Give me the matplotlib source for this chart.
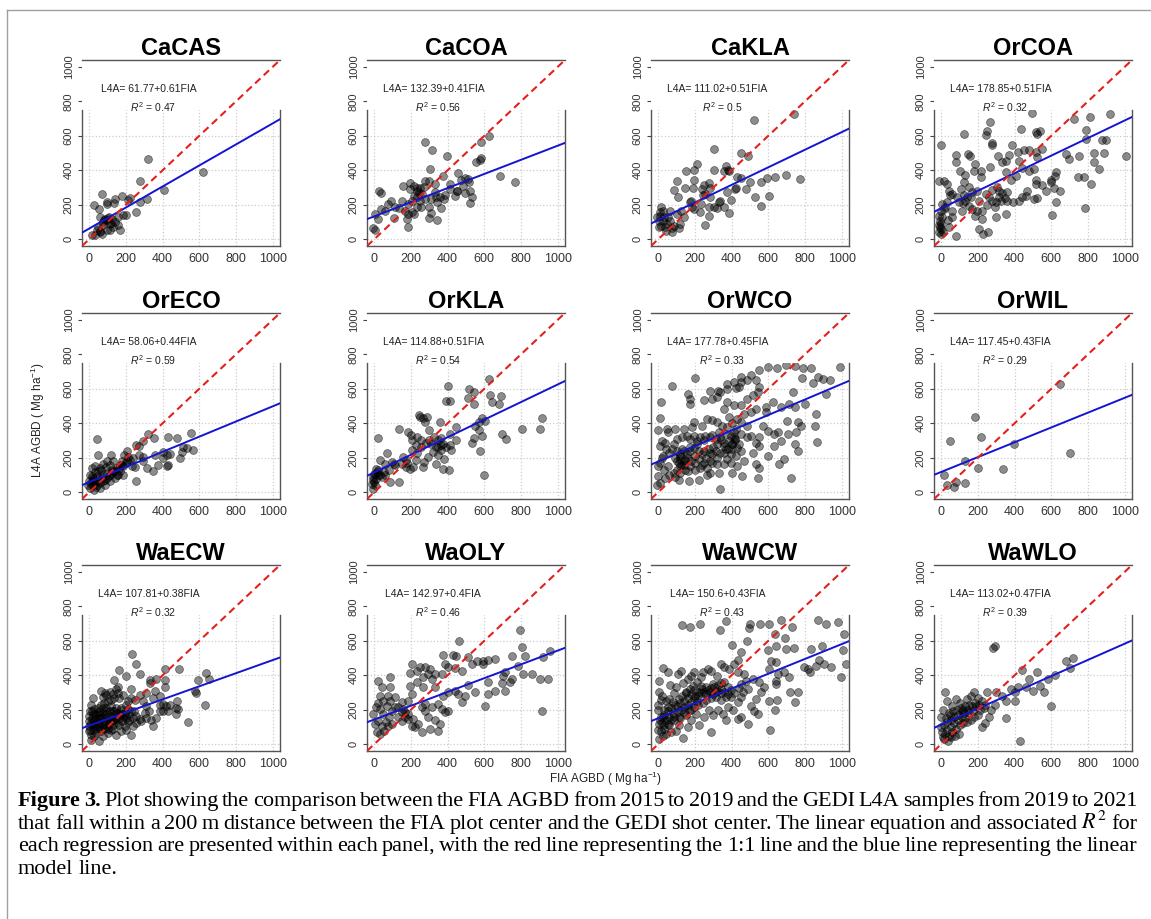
import matplotlib.pyplot as plt
from matplotlib.patches import Rectangle
from matplotlib.lines import Line2D
from matplotlib.transforms import IdentityTransform

W, H = 1151, 919

panels = ["CaCAS", "CaCOA", "CaKLA", "OrCOA",
          "OrECO", "OrKLA", "OrWCO", "OrWIL",
          "WaECW", "WaOLY", "WaWCW", "WaWLO"]
intercepts = [61.77, 132.39, 111.02, 178.85, 58.06, 114.88, 177.78, 117.45, 107.81, 142.97, 150.6, 113.02]
slopes = [0.61, 0.41, 0.51, 0.51, 0.44, 0.51, 0.45, 0.43, 0.38, 0.4, 0.43, 0.47]
r2 = [0.47, 0.56, 0.5, 0.32, 0.59, 0.54, 0.33, 0.29, 0.32, 0.46, 0.43, 0.39]
ticks = [0, 200, 400, 600, 800, 1000]

# (FIA, L4A) pairs
cacas_pts = [(322, 468), (622, 390), (276, 338), (407, 283), (313, 235), (67, 264), (98, 216), (25, 196),
             (55, 177), (176, 249), (140, 235), (95, 202), (135, 210), (213, 225), (222, 241), (255, 157),
             (276, 216), (200, 138), (158, 128), (122, 118), (95, 109), (58, 128), (76, 99), (49, 70),
             (58, 47), (31, 21), (95, 50), (113, 85), (140, 99), (167, 50), (158, 80), (131, 70), (109, 128),
             (87, 117), (76, 80), (40, 50), (113, 50), (13, 21), (67, 31), (185, 140), (100, 120), (80, 110),
             (120, 95), (60, 40)]
cacoa_pts = [(278, 561), (314, 517), (397, 483), (625, 600), (583, 561), (583, 470), (574, 462), (556, 445),
             (305, 406), (373, 369), (457, 386), (683, 367), (766, 330), (512, 348), (296, 340), (333, 320),
             (413, 320), (411, 289), (451, 278), (482, 309), (515, 330), (497, 266), (524, 282), (534, 247),
             (524, 212), (155, 307), (196, 291), (219, 307), (232, 282), (250, 297), (269, 305), (260, 262),
             (278, 233), (256, 188), (232, 243), (205, 223), (186, 204), (168, 165), (186, 146), (205, 155),
             (177, 117), (183, 72), (214, 146), (232, 184), (150, 223), (132, 181), (113, 184), (91, 223),
             (77, 204), (58, 165), (106, 122), (35, 177), (4, 146), (18, 117), (-5, 64), (4, 52), (37, 270),
             (27, 280), (342, 214), (311, 231), (296, 188), (311, 150), (296, 122), (342, 109), (336, 243),
             (360, 243), (378, 231), (388, 258), (442, 252), (451, 282), (366, 181), (196, 326), (241, 268),
             (250, 223), (214, 250), (274, 340), (232, 297), (333, 272), (475, 344), (497, 355)]
cakla_pts = [(523, 693), (739, 728), (306, 522), (450, 501), (491, 485), (211, 437), (193, 404), (152, 394),
             (306, 404), (371, 427), (380, 404), (358, 394), (385, 398), (431, 359), (450, 355), (501, 332),
             (560, 332), (593, 355), (637, 359), (697, 371), (771, 350), (101, 336), (143, 297), (187, 297),
             (196, 344), (248, 317), (284, 297), (240, 291), (275, 328), (373, 276), (418, 289), (422, 297),
             (479, 293), (528, 243), (605, 252), (560, 194), (106, 247), (174, 216), (180, 220), (193, 175),
             (229, 157), (235, 204), (244, 258), (257, 262), (275, 184), (275, 136), (253, 82), (330, 214),
             (321, 181), (306, 184), (385, 151), (339, 220), (284, 243), (83, 285), (17, 188), (9, 157),
             (9, 134), (6, 72), (24, 107), (37, 68), (46, 87), (55, 130), (64, 107), (72, 64), (42, 45),
             (72, 39), (101, 146), (116, 87), (110, 64), (125, 165), (28, 165), (6, 103), (17, 78), (61, 161),
             (138, 126), (83, 78), (31, 126), (-6, 126), (183, 188), (358, 184), (394, 227)]
orcoa_pts = [(496, 732), (724, 699), (812, 709), (920, 728), (263, 680), (122, 612), (245, 602), (250, 625),
             (434, 641), (515, 621), (538, 625), (524, 612), (788, 631), (277, 544), (274, 557), (310, 485),
             (387, 548), (369, 489), (451, 515), (420, 505), (478, 515), (515, 505), (524, 476), (551, 524),
             (-4, 548), (146, 495), (159, 480), (82, 489), (82, 447), (186, 437), (100, 394), (177, 398),
             (217, 398), (217, 359), (350, 456), (268, 417), (332, 447), (354, 388), (423, 456), (442, 414),
             (478, 398), (504, 408), (679, 495), (697, 466), (752, 485), (830, 499), (834, 447), (861, 408),
             (887, 499), (896, 577), (874, 577), (791, 583), (624, 388), (620, 369), (597, 330), (597, 346),
             (615, 297), (646, 278), (624, 214), (606, 140), (515, 321), (524, 239), (506, 233), (515, 344),
             (551, 317), (573, 282), (405, 369), (378, 344), (360, 272), (332, 266), (314, 243), (296, 214),
             (274, 223), (250, 200), (292, 188), (323, 223), (347, 239), (360, 223), (391, 214), (423, 223),
             (442, 243), (460, 252), (469, 278), (296, 130), (350, 146), (223, 117), (204, 59), (254, 39),
             (226, 29), (223, 165), (186, 136), (195, 165), (204, 223), (195, 282), (164, 243), (168, 272),
             (141, 243), (131, 223), (119, 208), (95, 214), (86, 243), (122, 258), (150, 194), (168, 175),
             (113, 165), (58, 165), (49, 258), (31, 214), (22, 188), (13, 175), (58, 126), (36, 111),
             (40, 68), (80, 19), (4, 130), (0, 87), (-5, 68), (-11, 39), (7, 39), (0, 29), (-15, 340),
             (31, 321), (13, 336), (58, 262), (40, 282), (108, 291), (122, 330), (131, 375), (150, 301),
             (241, 262), (259, 243), (277, 285), (305, 301), (314, 282), (743, 359), (816, 321), (785, 181),
             (1007, 485), (779, 359), (-11, 136), (-9, 107), (-4, 58), (-15, 84), (0, 165), (4, 204)]
oreco_pts = [(322, 338), (431, 318), (553, 344), (476, 315), (351, 315), (291, 295), (255, 276), (273, 266),
             (40, 307), (49, 214), (118, 214), (207, 237), (189, 214), (213, 202), (269, 214), (295, 202),
             (358, 214), (404, 233), (422, 214), (440, 222), (504, 233), (531, 256), (567, 247), (513, 260),
             (495, 198), (400, 198), (376, 159), (422, 150), (431, 155), (349, 124), (295, 179), (249, 148),
             (313, 140), (255, 62), (231, 150), (176, 179), (185, 150), (158, 101), (182, 97), (131, 179),
             (113, 159), (95, 179), (76, 163), (58, 140), (31, 150), (13, 140), (4, 101), (13, 62), (22, 39),
             (4, 23), (40, 43), (58, 23), (76, 62), (95, 82), (113, 101), (131, 120), (149, 140), (167, 159),
             (204, 179), (222, 188), (240, 198), (140, 82), (113, 62), (85, 43), (67, 82), (44, 91), (22, 82),
             (31, 52), (49, 72), (76, 101), (95, 111), (122, 130), (149, 101), (167, 120), (49, 120), (25, 14),
             (-5, 39), (0, 62), (10, 45), (20, 70), (35, 30), (60, 55), (85, 70), (105, 95), (125, 110),
             (140, 125), (160, 140), (180, 160), (200, 170), (15, 95), (30, 115), (65, 130), (90, 145)]
orkla_pts = [(624, 654), (402, 615), (519, 601), (541, 580), (633, 566), (643, 521), (693, 558), (680, 513),
             (389, 531), (415, 531), (511, 546), (541, 511), (244, 449), (250, 439), (263, 429), (287, 439),
             (278, 410), (356, 410), (300, 361), (443, 377), (411, 338), (133, 365), (183, 351), (198, 332),
             (207, 302), (233, 322), (252, 302), (226, 273), (281, 283), (300, 302), (309, 279), (346, 302),
             (337, 263), (374, 279), (389, 263), (411, 273), (420, 244), (448, 302), (365, 244), (319, 234),
             (346, 215), (337, 166), (374, 137), (406, 127), (378, 195), (291, 205), (272, 176), (226, 185),
             (263, 146), (211, 146), (193, 137), (174, 146), (174, 185), (159, 205), (106, 166), (96, 176),
             (69, 225), (31, 185), (78, 127), (87, 59), (133, 59), (22, 316), (550, 386), (569, 405),
             (587, 429), (606, 415), (569, 361), (587, 327), (541, 316), (532, 283), (578, 238), (596, 98),
             (698, 338), (720, 307), (804, 365), (904, 365), (913, 429), (0, 107), (-6, 68), (4, 39), (-6, 20),
             (7, 137), (13, 117), (-6, 88), (0, 59), (-11, 49), (19, 98), (31, 98), (50, 117), (41, 88),
             (59, 98), (115, 156), (152, 162), (180, 170), (56, 166), (7, 78), (4, 103), (22, 127), (346, 263),
             (365, 273), (328, 318), (365, 312), (252, 263), (207, 244), (233, 225)]
orwco_pts = [(596, 729), (648, 720), (697, 739), (743, 733), (789, 720), (835, 720), (991, 724), (550, 710),
             (505, 680), (450, 671), (413, 641), (374, 625), (326, 588), (284, 586), (202, 665), (77, 616),
             (161, 567), (171, 543), (171, 514), (248, 537), (290, 543), (321, 553), (339, 582), (374, 598),
             (422, 602), (440, 612), (453, 641), (486, 651), (532, 651), (550, 612), (541, 582), (514, 563),
             (486, 543), (450, 504), (413, 508), (376, 524), (358, 484), (385, 435), (404, 402), (431, 425),
             (450, 406), (422, 367), (468, 455), (505, 465), (532, 484), (587, 494), (587, 465), (624, 524),
             (670, 494), (710, 514), (743, 494), (734, 582), (784, 665), (844, 633), (871, 671), (899, 657),
             (936, 651), (917, 567), (862, 455), (853, 386), (868, 292), (798, 514), (761, 406), (780, 386),
             (752, 347), (748, 278), (761, 239), (703, 414), (706, 339), (670, 298), (684, 190), (660, 161),
             (725, 82), (633, 269), (651, 347), (596, 357), (569, 386), (550, 318), (532, 288), (550, 269),
             (514, 229), (596, 210), (633, 337), (505, 327), (486, 318), (486, 386), (450, 337), (418, 308),
             (404, 278), (394, 327), (376, 376), (349, 386), (321, 406), (294, 416), (266, 425), (239, 386),
             (193, 406), (183, 376), (138, 367), (92, 367), (46, 367), (0, 363), (9, 429), (13, 524), (9, 269),
             (18, 298), (37, 288), (55, 347), (83, 278), (101, 308), (128, 318), (156, 327), (174, 308),
             (193, 327), (211, 298), (229, 318), (257, 327), (284, 318), (312, 308), (339, 318), (358, 288),
             (385, 298), (413, 318), (73, 249), (101, 239), (119, 220), (138, 239), (156, 220), (174, 239),
             (193, 259), (220, 239), (248, 239), (275, 249), (294, 220), (312, 239), (339, 229), (367, 249),
             (394, 220), (404, 249), (431, 259), (110, 170), (128, 160), (147, 185), (120, 190), (147, 131),
             (101, 131), (83, 112), (55, 151), (28, 210), (9, 171), (0, 151), (0, 92), (-9, 43), (9, 53),
             (37, 82), (110, 73), (165, 63), (220, 73), (266, 102), (284, 112), (330, 112), (404, 112),
             (339, 18), (459, 92), (358, 161), (376, 190), (248, 171), (202, 171), (174, 151), (138, 180),
             (119, 151), (229, 141), (266, 141), (294, 171), (321, 161), (431, 151), (394, 171), (468, 180),
             (422, 210), (450, 239), (541, 82), (550, 141), (532, 161),
             (100, 180), (120, 210), (140, 160), (160, 200), (180, 180), (200, 210), (220, 190), (240, 220),
             (260, 200), (280, 230), (300, 260), (320, 280), (340, 300), (360, 270), (380, 250), (400, 280),
             (420, 300), (440, 280), (130, 250), (170, 260), (210, 280), (250, 300), (290, 330), (330, 350),
             (370, 340), (410, 350), (360, 230), (320, 200), (280, 180), (240, 160), (200, 130), (160, 120),
             (120, 110), (90, 200), (60, 230), (40, 250), (20, 200), (30, 130), (60, 100), (90, 90)]
orwil_pts = [(645, 625), (183, 435), (49, 299), (219, 318), (397, 282), (128, 183), (201, 140), (338, 134),
             (700, 227), (15, 101), (82, 58), (33, 39), (68, 29), (130, 54)]
waecw_pts = [(234, 522), (252, 468), (164, 429), (199, 396), (274, 405), (332, 372), (361, 376), (411, 439),
             (489, 439), (635, 413), (653, 376), (593, 370), (575, 308), (580, 298), (633, 226), (478, 250),
             (484, 201), (471, 172), (429, 195), (401, 234), (383, 279), (411, 331), (411, 370), (347, 269),
             (356, 308), (332, 357), (310, 298), (292, 250), (274, 288), (250, 259), (228, 318), (228, 269),
             (210, 250), (183, 288), (146, 318), (155, 331), (128, 292), (110, 304), (91, 288), (73, 273),
             (18, 265), (9, 226), (15, 191), (27, 201), (46, 211), (64, 230), (82, 240), (100, 250), (119, 259),
             (137, 265), (164, 265), (173, 211), (155, 181), (137, 191), (110, 191), (91, 172), (73, 181),
             (55, 152), (36, 152), (18, 142), (0, 133), (-4, 103), (0, 74), (18, 84), (36, 94), (55, 103),
             (73, 113), (91, 123), (110, 133), (128, 142), (146, 152), (164, 148), (183, 156), (201, 152),
             (219, 142), (237, 152), (256, 162), (274, 148), (256, 123), (237, 103), (228, 55), (192, 103),
             (173, 74), (146, 55), (119, 84), (100, 64), (73, 45), (55, 16), (27, 45), (9, 55), (36, 64),
             (64, 74), (82, 94), (0, 162), (4, 191), (18, 172), (46, 181), (73, 211), (91, 211), (119, 220),
             (128, 191), (146, 211), (192, 181), (210, 201), (228, 191), (246, 191), (310, 220), (328, 191),
             (338, 142), (310, 152), (347, 103), (383, 191), (365, 152), (401, 191), (420, 220), (438, 230),
             (283, 133), (301, 181), (173, 172), (219, 172), (128, 113), (164, 113), (201, 84), (91, 94),
             (18, 113), (4, 84), (27, 123), (9, 25), (539, 127), (474, 211), (383, 230), (64, 308), (88, 298),
             (137, 370), (155, 298),
             (10, 120), (25, 100), (40, 130), (50, 170), (65, 150), (80, 135), (95, 160), (105, 115),
             (120, 165), (135, 140), (150, 125), (165, 170), (180, 135), (195, 165), (210, 130), (30, 175),
             (45, 120), (60, 90), (75, 160), (90, 195), (115, 145), (140, 175), (170, 200), (200, 225),
             (15, 150), (35, 110), (55, 190), (85, 110), (100, 90), (130, 90)]
waoly_pts = [(795, 660), (804, 563), (462, 598), (958, 540), (922, 505), (822, 509), (749, 509), (658, 495),
             (622, 489), (595, 485), (595, 466), (558, 482), (531, 466), (513, 505), (444, 509), (431, 520),
             (376, 520), (385, 466), (404, 447), (440, 443), (476, 427), (367, 408), (331, 408), (295, 408),
             (264, 392), (231, 427), (204, 466), (195, 412), (249, 447), (276, 447), (304, 437), (231, 359),
             (195, 340), (204, 291), (185, 252), (149, 243), (131, 218), (158, 204), (167, 184), (185, 175),
             (213, 146), (204, 107), (222, 97), (240, 117), (258, 68), (304, 87), (349, 78), (358, 117),
             (331, 140), (295, 155), (276, 194), (258, 214), (276, 233), (313, 214), (349, 233), (367, 204),
             (385, 184), (404, 194), (376, 282), (404, 301), (440, 311), (458, 291), (495, 282), (476, 243),
             (549, 301), (513, 346), (622, 359), (622, 291), (604, 223), (658, 311), (704, 398), (786, 456),
             (858, 408), (904, 379), (913, 194), (945, 379), (813, 408), (713, 418), (749, 379), (695, 355),
             (740, 359), (713, 311), (22, 369), (85, 388), (40, 330), (7, 214), (22, 237), (-5, 175), (4, 117),
             (13, 68), (31, 58), (55, 78), (76, 107), (80, 155), (49, 175), (95, 194), (67, 223), (85, 252),
             (113, 272), (73, 282), (49, 252), (31, 204), (85, 330), (31, 282), (95, 117), (62, 127), (22, 136),
             (40, 107), (131, 155), (149, 136), (167, 155), (185, 146), (313, 379), (267, 330), (331, 330),
             (113, 214), (149, 184)]
wawcw_pts = [(127, 693), (173, 681), (229, 700), (369, 716), (335, 660), (402, 575), (453, 532), (435, 488),
             (484, 600), (493, 676), (502, 700), (555, 700), (605, 700), (669, 719), (727, 680), (869, 719),
             (915, 700), (978, 709), (1015, 641), (1005, 544), (1024, 466), (996, 388), (833, 554), (893, 567),
             (875, 489), (902, 466), (942, 450), (860, 456), (829, 417), (796, 446), (742, 558), (696, 554),
             (691, 618), (638, 641), (642, 567), (596, 544), (615, 485), (642, 476), (605, 437), (651, 407),
             (687, 417), (715, 388), (720, 300), (642, 349), (605, 251), (647, 255), (636, 196), (611, 84),
             (533, 261), (524, 193), (487, 115), (505, 222), (560, 300), (551, 359), (515, 378), (478, 368),
             (487, 320), (451, 349), (469, 407), (433, 417), (415, 466), (387, 437), (360, 446), (342, 466),
             (320, 398), (287, 427), (269, 437), (242, 417), (233, 388), (196, 417), (178, 398), (160, 378),
             (124, 427), (105, 407), (55, 417), (24, 442), (5, 368), (5, 304), (15, 259), (-4, 200), (15, 157),
             (5, 118), (-4, 83), (5, 31), (24, 50), (33, 89), (51, 118), (69, 138), (87, 157), (105, 186),
             (124, 196), (142, 216), (160, 225), (178, 245), (196, 265), (215, 279), (233, 294), (251, 304),
             (269, 314), (287, 323), (305, 333), (324, 343), (342, 353), (360, 363), (378, 333), (396, 314),
             (415, 294), (396, 275), (369, 271), (342, 255), (315, 275), (287, 265), (260, 255), (242, 236),
             (215, 226), (196, 216), (169, 196), (142, 186), (115, 157), (87, 138), (60, 109), (33, 109),
             (15, 79), (42, 60), (69, 70), (96, 79), (115, 109), (133, 35), (160, 99), (178, 138), (205, 177),
             (224, 109), (251, 157), (278, 196), (296, 167), (287, 70), (324, 196), (351, 177), (378, 216),
             (405, 196), (433, 245), (451, 275), (460, 304), (442, 323), (87, 294), (78, 245), (51, 216),
             (33, 196), (24, 157), (65, 343), (96, 333), (133, 353), (151, 294), (196, 314), (233, 337),
             (315, 304), (342, 294), (542, 177), (451, 157), (433, 148), (369, 138), (760, 300), (745, 245),
             (815, 437), (642, 368), (578, 329),
             (20, 120), (40, 140), (60, 160), (80, 180), (100, 220), (120, 240), (140, 250), (160, 270),
             (180, 290), (200, 280), (220, 300), (240, 320), (260, 330), (280, 300), (300, 290), (320, 310),
             (340, 320), (360, 300), (380, 290), (30, 170), (50, 190), (70, 210), (90, 230), (110, 260),
             (130, 280), (150, 300), (170, 320), (190, 340), (210, 360), (10, 140), (0, 230), (20, 280),
             (40, 250), (60, 260), (120, 150), (150, 170), (180, 200), (210, 250), (260, 290), (300, 350)]
wawlo_pts = [(20, 300), (30, 250), (10, 200), (40, 180), (60, 220), (80, 260), (100, 240), (120, 200),
             (140, 260), (160, 280), (180, 300), (200, 270), (220, 250), (240, 230), (150, 180), (130, 150),
             (110, 160), (90, 140), (70, 120), (50, 100), (30, 80), (20, 60), (10, 40), (40, 50), (60, 70),
             (80, 90), (100, 110), (120, 120), (140, 130), (160, 140), (180, 160), (200, 170), (210, 200),
             (230, 210), (190, 220), (170, 190), (150, 230), (130, 220), (110, 190), (90, 170), (70, 160),
             (50, 140), (30, 130), (15, 110), (25, 150), (45, 170), (65, 190), (85, 200), (105, 210),
             (125, 180), (145, 200), (165, 220), (185, 240), (205, 230), (250, 300), (270, 200), (290, 230),
             (300, 300), (280, 560), (290, 570), (350, 150), (400, 300), (420, 330), (440, 430), (460, 330),
             (480, 380), (500, 310), (520, 420), (540, 340), (560, 300), (580, 380), (600, 220), (620, 400),
             (680, 480), (700, 440), (720, 500), (430, 20), (380, 320), (400, 250), (350, 250), (330, 280),
             (260, 160), (240, 120), (220, 100), (0, 160), (0, 100), (5, 70), (15, 30), (35, 20), (55, 40),
             (75, 50), (95, 60)]
points = [cacas_pts, cacoa_pts, cakla_pts, orcoa_pts, oreco_pts, orkla_pts,
          orwco_pts, orwil_pts, waecw_pts, waoly_pts, wawcw_pts, wawlo_pts]

caption = [
    "Figure 3. Plot showing the comparison between the FIA AGBD from 2015 to 2019 and the GEDI L4A samples from 2019 to 2021",
    "that fall within a 200 m distance between the FIA plot center and the GEDI shot center. The linear equation and associated $R^2$ for",
    "each regression are presented within each panel, with the red line representing the 1:1 line and the blue line representing the linear",
    "model line.",
]

plt.rcParams["font.family"] = ["Liberation Sans", "DejaVu Sans"]
plt.rcParams["mathtext.fontset"] = "custom"
plt.rcParams["mathtext.rm"] = "Liberation Sans"
plt.rcParams["mathtext.it"] = "Liberation Sans:italic"

fig = plt.figure(figsize=(W / 100, H / 100), dpi=100)

# panel boxes in pixels
col_left = [82, 367, 651, 934]
row_top = [60, 313, 565]
aw, ah = 198, 186
lo, hi = -40, 1040

for i, name in enumerate(panels):
    r, c = divmod(i, 4)
    ax = fig.add_axes([col_left[c] / W, 1 - (row_top[r] + ah) / H, aw / W, ah / H])
    ax.set_xlim(lo, hi)
    ax.set_ylim(lo, hi)
    ax.set_axisbelow(True)
    ax.grid(True, color="#cccccc", linestyle=":", linewidth=0.9)
    ax.set_xticks(ticks)
    ax.set_yticks(ticks)
    ax.tick_params(axis="x", length=0, pad=5, labelsize=9, labelcolor="#333333")
    ax.tick_params(axis="y", length=3, width=0.8, pad=3, labelsize=8,
                   color="#444444", labelcolor="#333333", labelrotation=90)
    for lab in ax.get_yticklabels():
        lab.set_va("center")
    for side in ["left", "right", "top", "bottom"]:
        ax.spines[side].set_color("#555555")
        ax.spines[side].set_linewidth(1.0)
    ax.spines["left"].set_bounds(lo, 750)
    ax.spines["right"].set_bounds(lo, 750)

    xs, ys = zip(*points[i])
    ax.scatter(xs, ys, s=32, facecolors=[(0, 0, 0, 0.45)], edgecolors=[(0, 0, 0, 0.55)],
               linewidths=0.5, zorder=2)

    # white box behind the equation
    ax.add_patch(Rectangle((lo, 750), hi - lo, hi - 750, facecolor="white", edgecolor="none", zorder=2.4))

    a, b = intercepts[i], slopes[i]
    ax.plot([lo, hi], [a + b * lo, a + b * hi], color="#1414d2", lw=1.4, zorder=3)
    ax.plot([lo, hi], [lo, hi], color="#e3201c", lw=1.5, dashes=(3.5, 2.2), zorder=3.2)

    ax.text(0.335, 0.844, f"L4A= {a}+{b}FIA", transform=ax.transAxes, ha="center", va="center",
            fontsize=7.5, color="#222222", zorder=5)
    ax.text(0.36, 0.747, rf"$R^2$ = {r2[i]}", transform=ax.transAxes, ha="center", va="center",
            fontsize=7.5, color="#222222", zorder=5)
    ax.set_title(name, fontsize=17, fontweight="bold", pad=3)

fig.text(38 / W, 1 - 420 / H, "L4A AGBD ( Mg ha$^{-1}$)", rotation=90, ha="center", va="center",
         fontsize=8.5, color="#222222")
fig.text(605 / W, 1 - 779 / H, "FIA AGBD ( Mg ha$^{-1}$)", ha="center", va="center",
         fontsize=8.5, color="#222222")

# caption, justified word by word
renderer = fig.canvas.get_renderer()
x0, x1 = 18, 1137
cap_size = 16
baselines = [806, 829, 851, 874]
for k, line in enumerate(caption):
    words = line.split(" ")
    objs = []
    for j, w in enumerate(words):
        t = fig.text(0, H - baselines[k], w, transform=IdentityTransform(), fontsize=cap_size,
                     family="Liberation Serif", math_fontfamily="stix",
                     weight="bold" if (k == 0 and j < 2) else "normal", va="baseline")
        objs.append(t)
    widths = [t.get_window_extent(renderer).width for t in objs]
    if k < len(caption) - 1:
        gap = (x1 - x0 - sum(widths)) / (len(words) - 1)
    else:
        gap = cap_size * 0.25 * 100 / 72
    x = x0
    for t, w in zip(objs, widths):
        t.set_x(x)
        x += w + gap

# outer frame
fig.add_artist(Line2D([7, 7], [0, H - 10], transform=IdentityTransform(), color="#a0a0a0", lw=1))
fig.add_artist(Line2D([7, W], [H - 10, H - 10], transform=IdentityTransform(), color="#a0a0a0", lw=1))

fig.savefig("out.png", dpi=100)
